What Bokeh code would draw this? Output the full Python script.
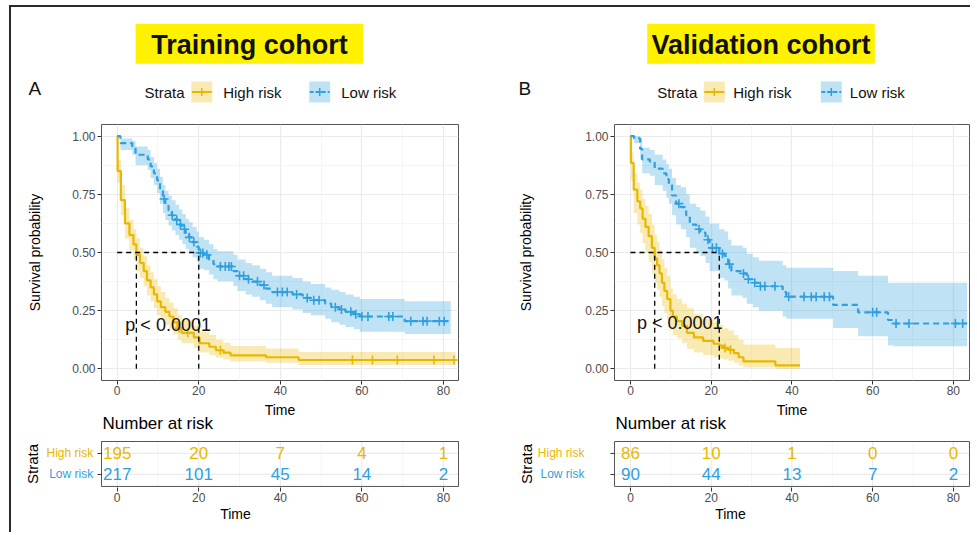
import numpy as np
from bokeh.plotting import figure
from bokeh.layouts import row, column
from bokeh.models import Range1d, FixedTicker, Div, NumeralTickFormatter
from bokeh.core.properties import value
from bokeh.embed import file_html
from bokeh.resources import INLINE

ORANGE = "#E7B800"
BLUE = "#2E9FDF"
YELLOW = "#FFF200"
FONT = "Liberation Sans"

# ---------------- data ----------------
strata = ["High risk", "Low risk"]
risk_times = [0, 20, 40, 60, 80]
minor_times = [10, 30, 50, 70]

# Training cohort
train_high_time = [0, 0.1, 0.9, 1.9, 3.0, 4.0, 4.7, 5.6, 6.5, 7.3, 8.2, 9.0, 9.8, 10.7, 11.8, 12.8, 13.8, 14.8, 15.8, 18.8,
                   20.2, 22.6, 24.2, 26.0, 27.8, 36.5, 44.5, 83.0]
train_high_surv = [1.0, 0.85, 0.725, 0.625, 0.575, 0.535, 0.49, 0.455, 0.42, 0.38, 0.35, 0.32, 0.29, 0.265, 0.245, 0.225, 0.20, 0.175, 0.155, 0.135,
                   0.11, 0.095, 0.08, 0.07, 0.058, 0.05, 0.038, 0.038]
train_high_lower = [1.0, 0.80, 0.66, 0.56, 0.51, 0.47, 0.42, 0.39, 0.355, 0.315, 0.29, 0.26, 0.23, 0.21, 0.19, 0.17, 0.15, 0.125, 0.11, 0.09,
                    0.07, 0.06, 0.048, 0.04, 0.032, 0.026, 0.017, 0.017]
train_high_upper = [1.0, 0.90, 0.79, 0.69, 0.64, 0.60, 0.56, 0.52, 0.485, 0.445, 0.415, 0.385, 0.355, 0.33, 0.305, 0.285, 0.26, 0.23, 0.21, 0.185,
                    0.16, 0.145, 0.125, 0.112, 0.098, 0.088, 0.072, 0.072]
train_high_censor = [15.2, 17.3, 25.3, 57.7, 62.6, 68.7, 77.7, 82.6]

train_low_time = [0, 0.8, 3.7, 4.5, 7.5, 8.2, 9.0, 9.8, 10.5, 11.2, 11.8, 12.6, 13.4, 14.3, 15.2, 16.0, 16.8, 17.6, 18.5, 19.5,
                  20.0, 21.3, 22.5, 23.6, 24.6, 28.5, 29.5, 31.5, 33.0, 35.0, 36.5, 38.0, 43.0, 45.5, 47.5, 51.0, 52.5, 54.5, 56.0, 58.0,
                  59.5, 70.5, 81.8]
train_low_surv = [1.0, 0.97, 0.95, 0.92, 0.90, 0.87, 0.84, 0.81, 0.77, 0.73, 0.70, 0.68, 0.66, 0.64, 0.62, 0.60, 0.58, 0.565, 0.545, 0.525,
                  0.498, 0.49, 0.47, 0.45, 0.44, 0.42, 0.40, 0.385, 0.375, 0.36, 0.345, 0.33, 0.32, 0.305, 0.295, 0.28, 0.265, 0.255, 0.245, 0.235,
                  0.225, 0.205, 0.205]
train_low_lower = [1.0, 0.94, 0.92, 0.875, 0.855, 0.82, 0.79, 0.755, 0.71, 0.67, 0.64, 0.615, 0.595, 0.575, 0.555, 0.535, 0.515, 0.50, 0.48, 0.46,
                   0.43, 0.425, 0.405, 0.385, 0.375, 0.355, 0.335, 0.32, 0.31, 0.295, 0.28, 0.265, 0.255, 0.24, 0.23, 0.215, 0.20, 0.19, 0.18, 0.17,
                   0.16, 0.15, 0.15]
train_low_upper = [1.0, 0.99, 0.98, 0.955, 0.94, 0.91, 0.885, 0.86, 0.825, 0.79, 0.765, 0.745, 0.725, 0.705, 0.685, 0.665, 0.645, 0.63, 0.61, 0.59,
                   0.565, 0.555, 0.535, 0.515, 0.505, 0.49, 0.47, 0.455, 0.445, 0.43, 0.415, 0.40, 0.39, 0.375, 0.365, 0.35, 0.34, 0.33, 0.32, 0.31,
                   0.30, 0.29, 0.29]
train_low_censor = [11.5, 13.5, 14.6, 15.5, 16.5, 17.7, 18.8, 20.4, 21.0, 22.0, 25.3, 26.5, 27.4, 28.0, 30.0, 31.0, 32.2, 34.4, 36.0, 39.3,
                    40.5, 41.7, 44.0, 46.6, 48.2, 49.5, 53.5, 55.0, 57.3, 58.5, 60.0, 61.5, 66.6, 67.6, 72.0, 75.0, 76.0, 79.0, 80.2]

train_risk_high = [195, 20, 7, 4, 1]
train_risk_low = [217, 101, 45, 14, 2]

# Validation cohort
valid_high_time = [0, 0.1, 0.8, 1.7, 2.4, 3.0, 3.7, 4.5, 5.3, 6.0, 6.6, 7.2, 7.8, 8.4, 9.1, 9.9, 10.5, 11.5, 12.8, 14.0,
                   15.7, 18.0, 20.6, 22.0, 23.0, 24.3, 25.6, 26.8, 28.0, 35.9, 42.0]
valid_high_surv = [1.0, 0.885, 0.77, 0.72, 0.69, 0.645, 0.61, 0.57, 0.52, 0.475, 0.445, 0.41, 0.37, 0.335, 0.30, 0.25, 0.225, 0.205, 0.185, 0.155,
                   0.135, 0.12, 0.108, 0.10, 0.09, 0.082, 0.068, 0.05, 0.032, 0.015, 0.015]
valid_high_lower = [1.0, 0.81, 0.67, 0.62, 0.585, 0.54, 0.50, 0.46, 0.41, 0.37, 0.34, 0.31, 0.27, 0.24, 0.21, 0.165, 0.145, 0.13, 0.11, 0.085,
                    0.07, 0.06, 0.05, 0.045, 0.04, 0.035, 0.026, 0.015, 0.006, 0.001, 0.001]
valid_high_upper = [1.0, 0.93, 0.84, 0.80, 0.77, 0.73, 0.70, 0.665, 0.62, 0.575, 0.545, 0.51, 0.47, 0.435, 0.40, 0.345, 0.32, 0.30, 0.28, 0.26,
                    0.235, 0.215, 0.20, 0.19, 0.175, 0.165, 0.145, 0.125, 0.105, 0.09, 0.09]
valid_high_censor = [23.4, 24.8]

valid_low_time = [0, 0.9, 2.4, 2.9, 4.8, 6.0, 8.0, 8.9, 9.5, 10.3, 11.3, 12.5, 13.8, 14.7, 16.3, 17.3, 18.6, 19.6, 22.0, 23.3,
                  24.2, 25.0, 27.8, 28.8, 30.3, 31.8, 37.7, 38.6, 50.2, 56.4, 63.8, 65.2, 83.4]
valid_low_surv = [1.0, 0.99, 0.945, 0.90, 0.89, 0.86, 0.84, 0.815, 0.79, 0.745, 0.71, 0.695, 0.66, 0.62, 0.60, 0.585, 0.555, 0.52, 0.495, 0.485,
                  0.45, 0.42, 0.41, 0.385, 0.37, 0.355, 0.33, 0.31, 0.275, 0.243, 0.21, 0.195, 0.195]
valid_low_lower = [1.0, 0.97, 0.90, 0.84, 0.83, 0.79, 0.765, 0.735, 0.71, 0.66, 0.62, 0.60, 0.565, 0.52, 0.50, 0.485, 0.455, 0.42, 0.39, 0.38,
                   0.345, 0.315, 0.305, 0.28, 0.265, 0.25, 0.225, 0.215, 0.176, 0.14, 0.10, 0.097, 0.097]
valid_low_upper = [1.0, 1.0, 0.99, 0.95, 0.94, 0.92, 0.90, 0.88, 0.86, 0.82, 0.79, 0.78, 0.75, 0.71, 0.695, 0.68, 0.655, 0.625, 0.60, 0.59,
                   0.555, 0.53, 0.52, 0.495, 0.48, 0.465, 0.445, 0.435, 0.42, 0.40, 0.37, 0.37, 0.37]
valid_low_censor = [12.0, 17.0, 19.2, 20.3, 21.3, 22.8, 24.5, 28.0, 29.2, 30.8, 32.2, 33.3, 35.8, 39.2, 43.0, 44.8, 46.0, 48.0, 49.3,
                    60.0, 61.0, 65.8, 69.0, 80.5, 82.3]

valid_risk_high = [86, 10, 1, 0, 0]
valid_risk_low = [90, 44, 13, 7, 2]

pval_text = "p < 0.0001"
train_pval_pos = (2.0, 0.19)
valid_pval_pos = (1.6, 0.197)


# ---------------- helpers ----------------
def step_value(times, surv, at):
    t = np.asarray(times)
    s = np.asarray(surv)
    idx = np.searchsorted(t, np.asarray(at), side="right") - 1
    return s[idx]


def median_time(times, surv):
    for t, s in zip(times, surv):
        if s <= 0.5:
            return t
    return None


def style_axes(p):
    for ax in p.xaxis + p.yaxis:
        ax.axis_line_color = None
        ax.major_tick_line_color = "#333333"
        ax.major_tick_out = 4
        ax.major_tick_in = 0
        ax.minor_tick_line_color = None
        ax.major_label_text_font = FONT
        ax.major_label_text_font_size = "12px"
        ax.major_label_text_color = "#4D4D4D"
        ax.major_label_standoff = 2
        ax.axis_label_text_font = FONT
        ax.axis_label_text_font_style = "normal"
        ax.axis_label_text_color = "#000000"


def header(W, H, title, box_cx, box_w, letter, letter_x, strata_x, k1, t1, k2, t2):
    h = figure(width=W, height=H, x_range=Range1d(0, W), y_range=Range1d(H, 0),
               x_axis_type=None, y_axis_type=None, min_border=0,
               toolbar_location=None, output_backend="svg")
    h.frame_align = False
    h.outline_line_color = None
    h.grid.visible = False
    h.rect(x=box_cx, y=36.3, width=box_w, height=40, fill_color=YELLOW, line_color=None)
    h.text(x=[box_cx], y=[37.5], text=[title], text_font=value(FONT), text_font_style="bold",
           text_font_size=value("27px"), text_align="center", text_baseline="middle", text_color="#111111")
    h.text(x=[letter_x], y=[80.5], text=[letter], text_font=value(FONT), text_font_size=value("19px"),
           text_align="left", text_baseline="middle", text_color="#111111")
    h.text(x=[strata_x], y=[85], text=["Strata"], text_font=value(FONT), text_font_size=value("15px"),
           text_align="left", text_baseline="middle", text_color="#111111")
    for kc, tx, col, lab, dash in [(k1, t1, ORANGE, strata[0], "solid"), (k2, t2, BLUE, strata[1], "4 2")]:
        h.rect(x=kc, y=84.4, width=21, height=21, fill_color=col, fill_alpha=0.3, line_color=None)
        h.segment(x0=kc - 10, y0=84.4, x1=kc + 10, y1=84.4, line_color=col, line_width=2, line_dash=dash)
        h.scatter(x=[kc], y=[84.4], marker="cross", size=8, line_color=col, line_width=1.5)
        h.text(x=[tx], y=[84.5], text=[lab], text_font=value(FONT), text_font_size=value("15px"),
               text_align="left", text_baseline="middle", text_color="#111111")
    return h


KM_FRAME_H = 256
KM_BOTTOM = 19


def km_panel(W, xr, bl, br, ylab_standoff, curves, pval_pos):
    p = figure(width=W, height=KM_FRAME_H + KM_BOTTOM, x_range=xr, y_range=Range1d(-0.05, 1.05),
               min_border_left=bl, min_border_right=br, min_border_top=0, min_border_bottom=KM_BOTTOM,
               toolbar_location=None, output_backend="svg")
    p.frame_align = False
    p.xaxis.ticker = FixedTicker(ticks=risk_times, minor_ticks=minor_times)
    p.yaxis.ticker = FixedTicker(ticks=[0, 0.25, 0.5, 0.75, 1.0], minor_ticks=[0.125, 0.375, 0.625, 0.875])
    p.yaxis.formatter = NumeralTickFormatter(format="0.00")
    style_axes(p)
    p.xaxis.major_label_standoff = 1
    p.outline_line_color = "#555555"
    p.outline_line_width = 1
    for g in (p.xgrid, p.ygrid):
        g.grid_line_color = "#EBEBEB"
        g.grid_line_width = 1.2
        g.minor_grid_line_color = "#F2F2F2"
        g.minor_grid_line_width = 0.8
    p.yaxis.axis_label = "Survival probability"
    p.yaxis.axis_label_text_font_size = "14px"
    p.yaxis.axis_label_standoff = ylab_standoff

    for (t, s, lo, up, cens, col, dash) in curves:
        p.varea_step(x=t, y1=lo, y2=up, step_mode="after", fill_color=col, fill_alpha=0.3)
    for (t, s, lo, up, cens, col, dash) in curves:
        p.step(x=t, y=s, mode="after", line_color=col, line_width=2.2, line_dash=dash)
        p.scatter(x=cens, y=step_value(t, s, cens), marker="cross", size=9, line_color=col, line_width=1.6)

    meds = [median_time(c[0], c[1]) for c in curves]
    p.segment(x0=0, y0=0.5, x1=max(meds), y1=0.5, line_color="black", line_dash="5 4", line_width=1.3)
    p.segment(x0=meds, y0=[0] * len(meds), x1=meds, y1=[0.5] * len(meds),
              line_color="black", line_dash="5 4", line_width=1.3)
    p.text(x=[pval_pos[0]], y=[pval_pos[1]], text=[pval_text], text_font=value(FONT),
           text_font_size=value("18px"), text_align="left", text_baseline="middle", text_color="#111111")
    return p


def risk_panel(W, H, km_xr, bl, br, label_right, strata_cx, high, low):
    # The frame covers the whole panel except the bottom axis; its x scale matches the KM plot above.
    # It also carries the KM plot's "Time" title and the "Number at risk" title.
    row_px = 21.0
    box_lo, box_hi = -0.57, 1.57
    top_pad = 42.0          # px from panel top to table box top
    frame_h = 88
    y_top = box_hi + top_pad / row_px
    y_bot = y_top - frame_h / row_px
    frame_w = W - bl - br
    scale = frame_w / (km_xr.end - km_xr.start)
    xs = km_xr.start - bl / scale
    xe = km_xr.end + 1.0 / scale

    def px(local):
        return xs + local / scale

    def py(px_above_box):
        return box_hi + px_above_box / row_px

    p = figure(width=W, height=H, x_range=Range1d(xs, xe), y_range=Range1d(y_bot, y_top),
               y_axis_type=None, min_border_left=0, min_border_right=br - 1,
               min_border_top=0, min_border_bottom=H - frame_h,
               toolbar_location=None, output_backend="svg")
    p.frame_align = False
    p.outline_line_color = None
    p.grid.visible = False
    p.xaxis.ticker = FixedTicker(ticks=risk_times, minor_ticks=minor_times)
    style_axes(p)
    p.xaxis.major_label_standoff = 1
    p.xaxis.axis_label = "Time"
    p.xaxis.axis_label_text_font_size = "14px"
    p.xaxis.axis_label_standoff = 1

    rows_y = [1, 0]
    # grid lines inside the table box
    p.segment(x0=minor_times, y0=[box_lo] * 4, x1=minor_times, y1=[box_hi] * 4,
              line_color="#F2F2F2", line_width=0.8)
    p.segment(x0=risk_times, y0=[box_lo] * 5, x1=risk_times, y1=[box_hi] * 5,
              line_color="#EBEBEB", line_width=1.2)
    p.segment(x0=[km_xr.start] * 2, y0=rows_y, x1=[km_xr.end] * 2, y1=rows_y,
              line_color="#EBEBEB", line_width=1.2)
    # table box
    p.quad(left=km_xr.start, right=km_xr.end, bottom=box_lo, top=box_hi,
           fill_color=None, line_color="#555555", line_width=1)
    # y tick marks
    p.segment(x0=[px(bl - 4)] * 2, y0=rows_y, x1=[px(bl)] * 2, y1=rows_y,
              line_color="#333333", line_width=1)
    # x title of the KM plot above
    p.text(x=[(km_xr.start + km_xr.end) / 2], y=[py(32)], text=["Time"], text_font=value(FONT),
           text_font_size=value("14px"), text_align="center", text_baseline="middle", text_color="#000000")
    # table title
    p.text(x=[px(bl + 1)], y=[py(18)], text=["Number at risk"], text_font=value(FONT),
           text_font_size=value("17px"), text_align="left", text_baseline="middle", text_color="#000000")
    # strata labels
    p.text(x=[px(label_right)] * 2, y=rows_y, text=strata, text_font=value(FONT),
           text_font_size=value("12px"), text_align="right", text_baseline="middle",
           text_color=[ORANGE, BLUE])
    p.text(x=[px(strata_cx)], y=[0.5], text=["Strata"], angle=np.pi / 2, text_font=value(FONT),
           text_font_size=value("15px"), text_align="center", text_baseline="middle", text_color="#000000")

    p.text(x=risk_times, y=[1] * len(high), text=[str(v) for v in high], text_font=value(FONT),
           text_font_size=value("17px"), text_align="center", text_baseline="middle", text_color=ORANGE)
    p.text(x=risk_times, y=[0] * len(low), text=[str(v) for v in low], text_font=value(FONT),
           text_font_size=value("17px"), text_align="center", text_baseline="middle", text_color=BLUE)
    return p


# ---------------- build ----------------
LW, RW, HH, TH = 479, 480, 117, 133
xr_left = Range1d(-3.85, 83.7)
xr_right = Range1d(-3.96, 84.0)

train_curves = [
    (train_high_time, train_high_surv, train_high_lower, train_high_upper, train_high_censor, ORANGE, "solid"),
    (train_low_time, train_low_surv, train_low_lower, train_low_upper, train_low_censor, BLUE, "6 4"),
]
valid_curves = [
    (valid_high_time, valid_high_surv, valid_high_lower, valid_high_upper, valid_high_censor, ORANGE, "solid"),
    (valid_low_time, valid_low_surv, valid_low_lower, valid_low_upper, valid_low_censor, BLUE, "6 4"),
]

h_left = header(LW, HH, "Training cohort", 237.9, 227.7, "A", 17, 133, 190.3, 211.7, 308.2, 329.7)
h_right = header(RW, HH, "Validation cohort", 270.5, 227.6, "B", 28, 166.7, 223.8, 242.7, 340.8, 359.3)

km_left = km_panel(LW, xr_left, 90, 32, 26, train_curves, train_pval_pos)
km_right = km_panel(RW, xr_right, 124, 1, 48, valid_curves, valid_pval_pos)

rk_left = risk_panel(LW, TH, xr_left, 90, 32, 81.7, 21, train_risk_high, train_risk_low)
rk_right = risk_panel(RW, TH, xr_right, 124, 1, 94, 35.5, valid_risk_high, valid_risk_low)

BAR = "#2a2a2a"
body_h = HH + KM_FRAME_H + KM_BOTTOM + TH
top_line = row(Div(width=9, height=5, margin=0), margin=0)
top_bar = row(Div(width=9, height=2, margin=0),
              Div(width=961, height=2, margin=0, styles={"background-color": BAR}), margin=0)
body = row(Div(width=9, height=body_h, margin=0),
           Div(width=2, height=body_h, margin=0, styles={"background-color": BAR}),
           column(h_left, km_left, rk_left, margin=0),
           column(h_right, km_right, rk_right, margin=0), margin=0)

layout = column(top_line, top_bar, body, margin=0)

open("out.html", "w").write(file_html(layout, INLINE))
